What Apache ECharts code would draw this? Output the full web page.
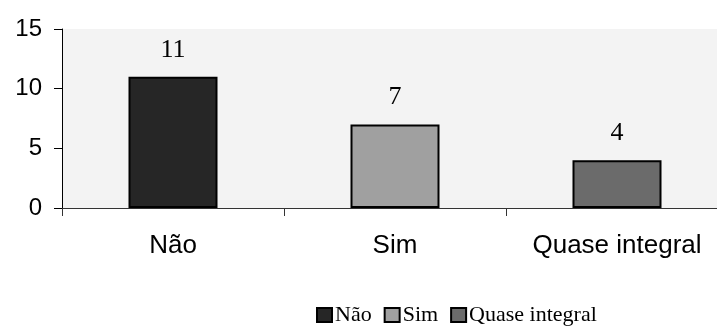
<!DOCTYPE html>
<html>
<head>
<meta charset="utf-8">
<script src="https://cdn.jsdelivr.net/npm/echarts@6/dist/echarts.min.js"></script>
<style>
  html, body { margin: 0; padding: 0; background: #ffffff; overflow: hidden; }
  /* the plot runs past the right edge of the view */
  #chart { width: 740px; height: 327px; }
</style>
</head>
<body>
<div id="chart"></div>
<script>
// Categories and counts
const categories = ['Não', 'Sim', 'Quase integral'];
const values = [11, 7, 4];
const yTicks = [0, 5, 10, 15];

// Fill colour for each category's bar
const fills = ['#262626', '#a0a0a0', '#6b6b6b'];

const chart = echarts.init(document.getElementById('chart'), null, { renderer: 'canvas' });

// One series per category so each gets its own legend entry;
// bars overlap at the category centre via barGap -100%.
const series = categories.map((name, i) => ({
  name: name,
  type: 'bar',
  barWidth: 89,
  barGap: '-100%',
  data: categories.map((c, j) => (j === i ? values[i] : null)),
  itemStyle: { color: fills[i], borderColor: '#000000', borderWidth: 2 },
  label: {
    show: true,
    position: 'top',
    distance: 14,
    fontFamily: 'Liberation Serif',
    fontSize: 26,
    color: '#000000'
  },
  emphasis: { disabled: true }
}));

chart.setOption({
  animation: false,
  backgroundColor: '#ffffff',
  grid: {
    left: 62, top: 29, width: 666, height: 179,
    show: true, backgroundColor: '#f3f3f3', borderWidth: 0
  },
  legend: {
    data: categories,
    left: 311,
    top: 299,
    itemWidth: 15,
    itemHeight: 14,
    itemGap: 12,
    icon: 'rect',
    textStyle: { fontFamily: 'Liberation Serif', fontSize: 22, color: '#000000', padding: [0, 0, 0, -2] }
  },
  xAxis: {
    type: 'category',
    data: categories,
    axisLine: { show: true, lineStyle: { color: '#333333', width: 1 } },
    axisTick: { show: true, alignWithLabel: false, length: 8, lineStyle: { color: '#333333' } },
    axisLabel: { margin: 25, fontFamily: 'Liberation Sans', fontSize: 26, color: '#000000' },
    splitLine: { show: false }
  },
  yAxis: {
    type: 'value',
    min: yTicks[0],
    max: yTicks[yTicks.length - 1],
    interval: yTicks[1] - yTicks[0],
    axisLine: { show: true, lineStyle: { color: '#000000', width: 1 } },
    axisTick: { show: true, length: 8, lineStyle: { color: '#000000' } },
    axisLabel: { margin: 20, fontFamily: 'Liberation Sans', fontSize: 24, color: '#000000' },
    splitLine: { show: false }
  },
  series: series
});
</script>
</body>
</html>
